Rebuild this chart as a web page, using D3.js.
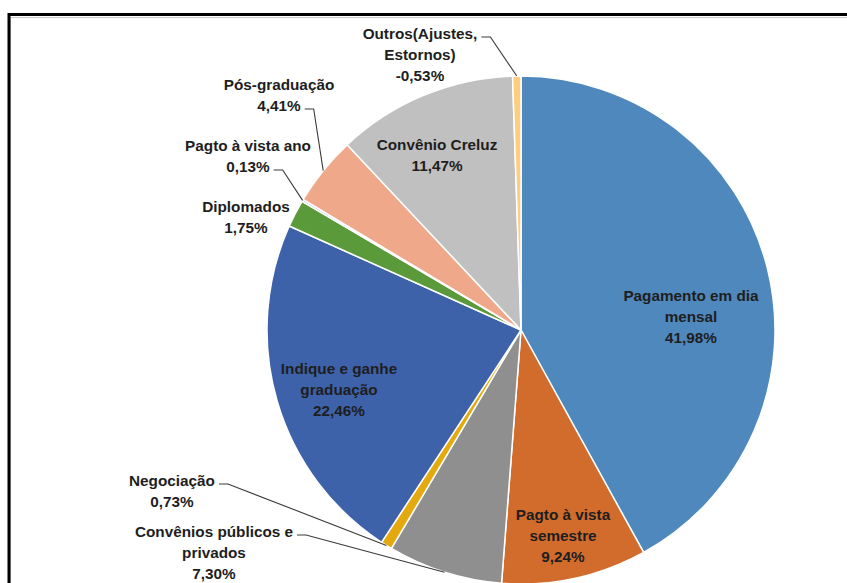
<!DOCTYPE html>
<meta charset="utf-8">
<style>
body { margin: 0; background: #fff; }
.label {
  font: bold 15.3px "Liberation Sans", Arial, sans-serif;
  fill: #1e1e1e;
  text-anchor: middle;
}
.leader {
  fill: none;
  stroke: #3a3a3a;
  stroke-width: 1.1;
}
</style>
<svg width="847" height="583"></svg>
<script src="https://d3js.org/d3.v7.min.js"></script>
<script>

// data, clockwise from 12 o'clock
var categories = [
  ["Pagamento em dia", "mensal"],
  ["Pagto à vista", "semestre"],
  ["Convênios públicos e", "privados"],
  ["Negociação"],
  ["Indique e ganhe", "graduação"],
  ["Diplomados"],
  ["Pagto à vista ano"],
  ["Pós-graduação"],
  ["Convênio Creluz"],
  ["Outros(Ajustes,", "Estornos)"]
];
var values = [41.98, 9.24, 7.30, 0.73, 22.46, 1.75, 0.13, 4.41, 11.47, -0.53];
var colors = ["#4f88bd", "#d26c2c", "#8f8f8f", "#e3a90f", "#3d62aa",
              "#5b9a3b", "#8fb5dc", "#f0a88a", "#c0c0c0", "#fdcd80"];

// label placement: centre x, first line centre y, which line gets a leader (null = none)
var labelLayout = [
  {x: 691, y: 296, leader: null},
  {x: 563, y: 515, leader: null},
  {x: 214, y: 532, leader: 0},
  {x: 172, y: 481, leader: 0},
  {x: 339, y: 369, leader: null},
  {x: 246, y: 207, leader: null},
  {x: 248, y: 146, leader: 1},
  {x: 279, y: 85, leader: 1},
  {x: 437, y: 145, leader: null},
  {x: 420, y: 34, leader: 0}
];

var svg = d3.select("svg"),
    cx = 521, cy = 330, radius = 254,
    lineH = 21;

// frame
svg.append("path")
    .attr("d", "M10.5,583V17.5H847")
    .attr("fill", "none").attr("stroke", "#c8c8c8").attr("stroke-width", 1);
svg.append("path")
    .attr("d", "M9,583V14.5H847")
    .attr("fill", "none").attr("stroke", "#000").attr("stroke-width", 3);

var pie = d3.pie().sort(null).value(function(d) { return Math.abs(d); });
var arc = d3.arc().innerRadius(0).outerRadius(radius);
var arcs = pie(values);

var g = svg.append("g").attr("transform", "translate(" + cx + "," + cy + ")");

g.selectAll("path")
  .data(arcs)
  .enter().append("path")
    .attr("d", arc)
    .attr("fill", function(d, i) { return colors[i]; })
    .attr("stroke", "#fff")
    .attr("stroke-width", 1.5)
    .attr("stroke-linejoin", "round");

var locale = d3.formatLocale({decimal: ",", thousands: ".", grouping: [3], currency: ["R$", ""], minus: "-"});
var fmt = locale.format(".2f");

arcs.forEach(function(d, i) {
  var lay = labelLayout[i];
  var lines = categories[i].concat([fmt(values[i]) + "%"]);
  var texts = [];
  lines.forEach(function(s, j) {
    var t = svg.append("text")
        .attr("class", "label")
        .attr("x", lay.x)
        .attr("y", lay.y + j * lineH)
        .attr("dy", "0.35em")
        .text(s);
    texts.push(t);
  });

  if (lay.leader !== null) {
    var t = texts[lay.leader];
    var w = t.node().getComputedTextLength();
    var x0 = lay.x + w / 2 + 4,
        y0 = lay.y + lay.leader * lineH + 3;
    var mid = (d.startAngle + d.endAngle) / 2;
    var px = cx + radius * Math.sin(mid),
        py = cy - radius * Math.cos(mid);
    svg.append("path")
        .attr("class", "leader")
        .attr("d", d3.line()([[x0, y0], [x0 + 9, y0], [px, py]]));
  }
});

</script>
